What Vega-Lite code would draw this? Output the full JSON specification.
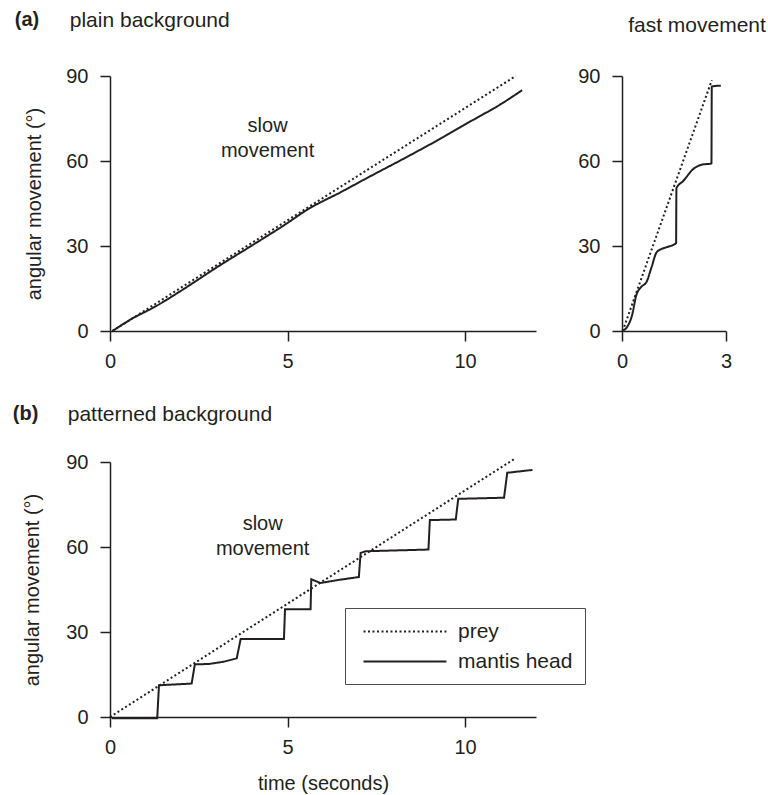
{
  "$schema": "https://vega.github.io/schema/vega-lite/v6.json",
  "background": "white",
  "padding": {"left": 12, "top": 10, "right": 2, "bottom": 5},
  "config": {
    "font": "Liberation Sans",
    "view": {"stroke": null},
    "title": {"font": "Liberation Sans", "fontSize": 21, "fontWeight": "normal", "color": "#231f20"},
    "axis": {
      "grid": false, "labelFlush": false, "labelOverlap": false,
      "domainColor": "#231f20", "tickColor": "#231f20", "labelColor": "#231f20", "titleColor": "#231f20",
      "domainWidth": 1.5, "tickWidth": 1.5, "tickSize": 10,
      "labelFont": "Liberation Sans", "titleFont": "Liberation Sans",
      "labelFontSize": 20, "titleFontSize": 20, "titleFontWeight": "normal"
    },
    "axisX": {"labelPadding": 10, "titlePadding": 18},
    "axisY": {"labelPadding": 12, "titlePadding": 21},
    "text": {"font": "Liberation Sans", "fontSize": 20, "color": "#231f20"}
  },
  "datasets": {
    "slowPlain": [
      {"t": 0.07, "angle": 0, "series": "prey"},
      {"t": 11.43, "angle": 90, "series": "prey"},
      {"t": 0.07, "angle": 0, "series": "mantis head"},
      {"t": 0.6, "angle": 4.2, "series": "mantis head"},
      {"t": 1.3, "angle": 8.8, "series": "mantis head"},
      {"t": 2.0, "angle": 14.2, "series": "mantis head"},
      {"t": 3.0, "angle": 22.4, "series": "mantis head"},
      {"t": 4.0, "angle": 30.2, "series": "mantis head"},
      {"t": 4.9, "angle": 37.3, "series": "mantis head"},
      {"t": 5.58, "angle": 43.0, "series": "mantis head"},
      {"t": 6.5, "angle": 49.0, "series": "mantis head"},
      {"t": 7.33, "angle": 54.6, "series": "mantis head"},
      {"t": 8.3, "angle": 61.0, "series": "mantis head"},
      {"t": 9.21, "angle": 67.2, "series": "mantis head"},
      {"t": 10.2, "angle": 74.3, "series": "mantis head"},
      {"t": 11.0, "angle": 80.0, "series": "mantis head"},
      {"t": 11.61, "angle": 85.0, "series": "mantis head"}
    ],
    "fastPlain": [
      {"t": 0.02, "angle": 0, "series": "prey"},
      {"t": 2.59, "angle": 88.5, "series": "prey"},
      {"t": 0.0, "angle": 0, "series": "mantis head"},
      {"t": 0.15, "angle": 1.5, "series": "mantis head"},
      {"t": 0.28, "angle": 5.1, "series": "mantis head"},
      {"t": 0.42, "angle": 12.9, "series": "mantis head"},
      {"t": 0.55, "angle": 15.5, "series": "mantis head"},
      {"t": 0.71, "angle": 17.4, "series": "mantis head"},
      {"t": 0.85, "angle": 22.4, "series": "mantis head"},
      {"t": 1.0, "angle": 27.8, "series": "mantis head"},
      {"t": 1.15, "angle": 29.0, "series": "mantis head"},
      {"t": 1.29, "angle": 29.6, "series": "mantis head"},
      {"t": 1.56, "angle": 31.0, "series": "mantis head"},
      {"t": 1.57, "angle": 50.4, "series": "mantis head"},
      {"t": 1.77, "angle": 53.0, "series": "mantis head"},
      {"t": 2.06, "angle": 57.2, "series": "mantis head"},
      {"t": 2.3, "angle": 58.7, "series": "mantis head"},
      {"t": 2.58, "angle": 59.1, "series": "mantis head"},
      {"t": 2.59, "angle": 86.3, "series": "mantis head"},
      {"t": 2.85, "angle": 86.6, "series": "mantis head"}
    ],
    "slowPatterned": [
      {"t": 0.0, "angle": 0, "series": "prey"},
      {"t": 11.38, "angle": 91.0, "series": "prey"},
      {"t": 0.05, "angle": -0.4, "series": "mantis head"},
      {"t": 1.33, "angle": -0.4, "series": "mantis head"},
      {"t": 1.38, "angle": 11.2, "series": "mantis head"},
      {"t": 2.3, "angle": 11.8, "series": "mantis head"},
      {"t": 2.39, "angle": 18.6, "series": "mantis head"},
      {"t": 2.78, "angle": 18.7, "series": "mantis head"},
      {"t": 3.2, "angle": 19.5, "series": "mantis head"},
      {"t": 3.57, "angle": 20.7, "series": "mantis head"},
      {"t": 3.68, "angle": 27.5, "series": "mantis head"},
      {"t": 4.9, "angle": 27.5, "series": "mantis head"},
      {"t": 4.93, "angle": 38.0, "series": "mantis head"},
      {"t": 5.65, "angle": 38.0, "series": "mantis head"},
      {"t": 5.67, "angle": 48.6, "series": "mantis head"},
      {"t": 5.93, "angle": 47.3, "series": "mantis head"},
      {"t": 6.45, "angle": 48.4, "series": "mantis head"},
      {"t": 7.01, "angle": 49.4, "series": "mantis head"},
      {"t": 7.06, "angle": 57.9, "series": "mantis head"},
      {"t": 7.2, "angle": 58.5, "series": "mantis head"},
      {"t": 8.97, "angle": 59.1, "series": "mantis head"},
      {"t": 9.01, "angle": 69.5, "series": "mantis head"},
      {"t": 9.74, "angle": 69.7, "series": "mantis head"},
      {"t": 9.81, "angle": 77.0, "series": "mantis head"},
      {"t": 11.1, "angle": 77.4, "series": "mantis head"},
      {"t": 11.19, "angle": 86.2, "series": "mantis head"},
      {"t": 11.9, "angle": 87.2, "series": "mantis head"}
    ]
  },
  "spacing": 33,
  "resolve": {"scale": {"strokeDash": "independent"}, "legend": {"strokeDash": "independent"}},
  "vconcat": [
    {
      "title": {"text": "(a)", "anchor": "start", "frame": "bounds", "fontWeight": "bold", "fontSize": 20, "offset": -20, "dx": -10},
      "spacing": 41,
      "resolve": {"scale": {"strokeDash": "independent"}, "legend": {"strokeDash": "independent"}},
      "hconcat": [
        {
          "width": 426, "height": 255,
          "title": {"text": "plain background", "anchor": "start", "frame": "bounds", "dx": 45, "offset": 35},
          "layer": [
            {
              "data": {"name": "slowPlain"},
              "mark": {"type": "line", "interpolate": "monotone", "strokeWidth": 2, "color": "#231f20"},
              "encoding": {
                "x": {"field": "t", "type": "quantitative", "scale": {"domain": [0, 12], "nice": false}, "axis": {"values": [0, 5, 10], "title": null}},
                "y": {"field": "angle", "type": "quantitative", "scale": {"domain": [0, 90], "nice": false}, "axis": {"values": [0, 30, 60, 90], "title": "angular movement (°)"}},
                "strokeDash": {"field": "series", "type": "nominal", "scale": {"domain": ["prey", "mantis head"], "range": [[2, 2.5], [1, 0]]}, "legend": null}
              }
            },
            {
              "data": {"values": [{}]},
              "mark": {"type": "text", "text": ["slow", "movement"], "lineHeight": 25, "align": "center", "baseline": "middle"},
              "encoding": {"x": {"datum": 4.44}, "y": {"datum": 72.4}}
            }
          ]
        },
        {
          "width": 104, "height": 255,
          "title": {"text": "fast movement", "anchor": "middle", "frame": "group", "dx": 23, "offset": 30},
          "data": {"name": "fastPlain"},
          "mark": {"type": "line", "interpolate": "monotone", "strokeWidth": 2, "color": "#231f20"},
          "encoding": {
            "x": {"field": "t", "type": "quantitative", "scale": {"domain": [0, 3], "nice": false}, "axis": {"values": [0, 3], "title": null}},
            "y": {"field": "angle", "type": "quantitative", "scale": {"domain": [0, 90], "nice": false}, "axis": {"values": [0, 30, 60, 90], "title": null}},
            "strokeDash": {"field": "series", "type": "nominal", "scale": {"domain": ["prey", "mantis head"], "range": [[2, 2.5], [1, 0]]}, "legend": null}
          }
        }
      ]
    },
    {
      "title": {"text": "(b)", "anchor": "start", "frame": "bounds", "fontWeight": "bold", "fontSize": 20, "offset": -20, "dx": -10},
      "vconcat": [
        {
          "width": 426, "height": 255,
          "title": {"text": "patterned background", "anchor": "start", "frame": "bounds", "dx": 45, "offset": 27},
          "layer": [
            {
              "data": {"name": "slowPatterned"},
              "mark": {"type": "line", "strokeWidth": 2, "color": "#231f20"},
              "encoding": {
                "x": {"field": "t", "type": "quantitative", "scale": {"domain": [0, 12], "nice": false}, "axis": {"values": [0, 5, 10], "title": "time (seconds)", "titlePadding": 16}},
                "y": {"field": "angle", "type": "quantitative", "scale": {"domain": [0, 90], "nice": false}, "axis": {"values": [0, 30, 60, 90], "title": "angular movement (°)", "titlePadding": 23}},
                "strokeDash": {
                  "field": "series", "type": "nominal",
                  "scale": {"domain": ["prey", "mantis head"], "range": [[2, 2.5], [1, 0]]},
                  "legend": {
                    "title": null, "orient": "none", "legendX": 235, "legendY": 146,
                    "symbolType": "M0,0H8", "symbolSize": 430, "symbolOffset": -5,
                    "symbolStrokeWidth": 2, "symbolStrokeColor": "#231f20", "symbolFillColor": "transparent",
                    "labelFont": "Liberation Sans", "labelFontSize": 21, "labelColor": "#231f20", "labelOffset": 83,
                    "strokeColor": "#4d4d4d", "padding": 12, "rowPadding": 8
                  }
                }
              }
            },
            {
              "data": {"values": [{}]},
              "mark": {"type": "text", "text": ["slow", "movement"], "lineHeight": 25, "align": "center", "baseline": "middle"},
              "encoding": {"x": {"datum": 4.3}, "y": {"datum": 68.1}}
            }
          ]
        }
      ]
    }
  ]
}
